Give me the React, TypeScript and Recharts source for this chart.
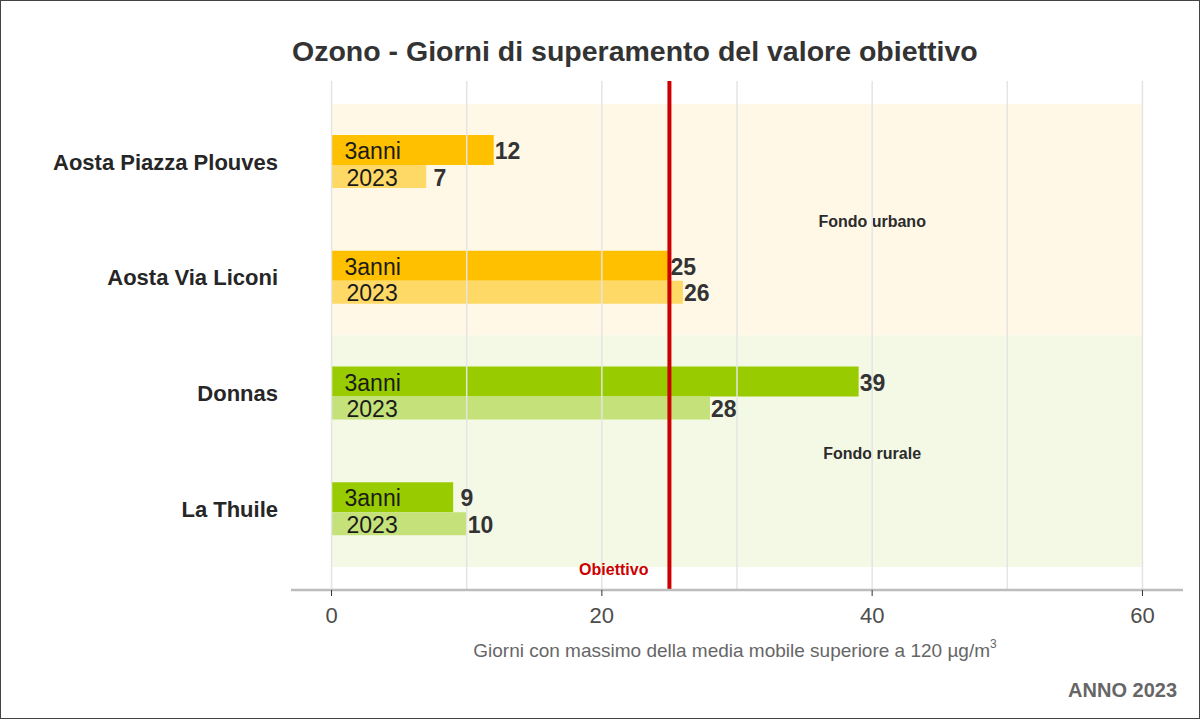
import React from 'react'
import {
  ComposedChart, Bar, XAxis, YAxis, ReferenceArea, ReferenceLine, LabelList, Cell,
} from 'recharts'

const stations = ['Aosta Piazza Plouves', 'Aosta Via Liconi', 'Donnas', 'La Thuile']
const media3anni = [12, 25, 39, 9]
const anno2023 = [7, 26, 28, 10]
const fondo = ['urbano', 'urbano', 'rurale', 'rurale']
const xTicks = [0, 20, 40, 60]
const gridValues = [0, 10, 20, 30, 40, 50, 60]
const obiettivo = 25

const palette: Record<string, { tre: string; anno: string; bg: string }> = {
  urbano: { tre: '#ffc000', anno: '#ffd966', bg: '#fff8e6' },
  rurale: { tre: '#99cc00', anno: '#c5e17a', bg: '#f4f9e6' },
}

const data = stations.map((station, i) => ({
  station,
  tre: media3anni[i],
  anno: anno2023[i],
  fondo: fondo[i],
}))

const FONT = '"Liberation Sans", Arial, Helvetica, sans-serif'

function insideLabel(text: string, dx: number) {
  return (p: any) => (
    <text
      x={Number(p.x) + dx}
      y={Number(p.y) + Number(p.height) / 2 + 1}
      dominantBaseline="central"
      fontSize={23}
      fill="#1a1a1a"
    >
      {text}
    </text>
  )
}

function valueLabel(p: any) {
  return (
    <text
      x={Number(p.x) + Number(p.width) + 1}
      y={Number(p.y) + Number(p.height) / 2 + 1}
      dominantBaseline="central"
      fontSize={23}
      fontWeight="bold"
      fill="#333333"
    >
      {String(p.value).padStart(2, '\u00A0')}
    </text>
  )
}

function areaLabel(text: string) {
  return (p: any) => {
    const vb = p.viewBox || {}
    return (
      <text
        x={vb.x + (vb.width * 2) / 3}
        y={vb.y + vb.height / 2 + 2}
        textAnchor="middle"
        dominantBaseline="central"
        fontSize={16}
        fontWeight="bold"
        fill="#2b2b2b"
      >
        {text}
      </text>
    )
  }
}

function obiettivoLabel(p: any) {
  const vb = p.viewBox || {}
  return (
    <text
      x={vb.x - 21}
      y={vb.y + vb.height - 21}
      textAnchor="end"
      dominantBaseline="central"
      fontSize={16}
      fontWeight="bold"
      fill="#cc0000"
    >
      Obiettivo
    </text>
  )
}

export default function App() {
  return (
    <div
      style={{
        position: 'absolute', left: 0, top: 0, width: 1200, height: 719,
        boxSizing: 'border-box', border: '1px solid #444', background: '#fff',
        fontFamily: FONT,
      }}
    >
      <ComposedChart
        layout="vertical"
        width={1198}
        height={717}
        data={data}
        barGap={0}
        margin={{ top: 80, right: 16, bottom: 88, left: 0 }}
      >
        <XAxis
          type="number"
          domain={[-3, 63]}
          ticks={xTicks}
          allowDataOverflow
          height={40}
          axisLine={{ stroke: '#bdbdbd', strokeWidth: 2.5 }}
          tickLine={{ stroke: '#333' }}
          tickSize={6}
          tickMargin={11}
          tick={{ fontSize: 22, fill: '#4d4d4d' }}
        />
        <YAxis
          type="category"
          dataKey="station"
          width={290}
          padding={{ top: 23, bottom: 23 }}
          axisLine={false}
          tickLine={false}
          tickSize={0}
          tickMargin={13}
          tick={{ fontSize: 22, fontWeight: 'bold', fill: '#262626' }}
        />
        <ReferenceArea
          x1={0}
          x2={60}
          y1={stations[0]}
          y2={stations[1]}
          fill={palette.urbano.bg}
          fillOpacity={1}
          stroke="none"
          label={areaLabel('Fondo urbano')}
        />
        <ReferenceArea
          x1={0}
          x2={60}
          y1={stations[2]}
          y2={stations[3]}
          fill={palette.rurale.bg}
          fillOpacity={1}
          stroke="none"
          label={areaLabel('Fondo rurale')}
        />
        {gridValues.map((v) => (
          <ReferenceLine key={v} x={v} stroke="#e4e4e4" strokeWidth={1.5} />
        ))}
        <Bar dataKey="tre" barSize={30} isAnimationActive={false}>
          {data.map((d) => (
            <Cell key={d.station} fill={palette[d.fondo].tre} />
          ))}
          <LabelList dataKey="tre" content={insideLabel('3anni', 13)} />
          <LabelList dataKey="tre" content={valueLabel} />
        </Bar>
        <Bar dataKey="anno" barSize={23} isAnimationActive={false}>
          {data.map((d) => (
            <Cell key={d.station} fill={palette[d.fondo].anno} />
          ))}
          <LabelList dataKey="anno" content={insideLabel('2023', 15)} />
          <LabelList dataKey="anno" content={valueLabel} />
        </Bar>
        <ReferenceLine
          x={obiettivo}
          stroke="#cc0000"
          strokeWidth={4}
          label={obiettivoLabel}
        />
      </ComposedChart>
      <svg
        width={1198}
        height={717}
        style={{ position: 'absolute', left: 0, top: 0, pointerEvents: 'none' }}
      >
        <text x={291} y={60} fontSize={28.5} fontWeight="bold" fill="#333">
          Ozono - Giorni di superamento del valore obiettivo
        </text>
        <text x={734} y={656} fontSize={19} fill="#666" textAnchor="middle">
          Giorni con massimo della media mobile superiore a 120 µg/m
          <tspan dy={-9} fontSize={12}>3</tspan>
        </text>
        <text x={1176} y={696} fontSize={20} fontWeight="bold" fill="#666" textAnchor="end">
          ANNO 2023
        </text>
      </svg>
    </div>
  )
}
